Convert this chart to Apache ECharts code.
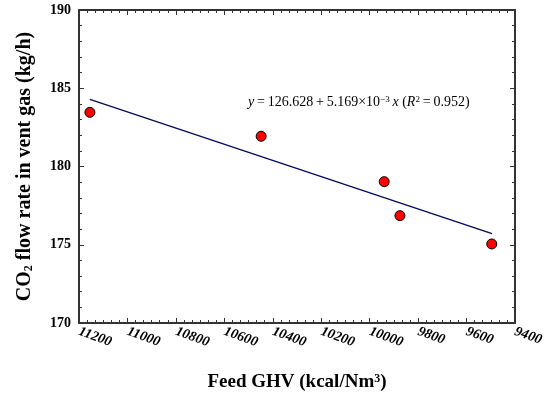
<!DOCTYPE html>
<html>
<head>
<meta charset="utf-8">
<script src="https://cdn.jsdelivr.net/npm/echarts@6/dist/echarts.min.js"></script>
<style>
  html, body { margin: 0; padding: 0; background: #fff; }
  #chart { width: 551px; height: 395px; }
</style>
</head>
<body>
<div id="chart"></div>
<script>
// measured points (feed GHV, CO2 flow)
const ghv = [11155, 10448, 9940, 9875, 9496]
const co2 = [183.46, 181.93, 179.03, 176.86, 175.05]
// ends of the fitted line
const fitGhv = [11155, 9495]
const fitCo2 = [184.29, 175.71]
const xTicks = [9400, 11200, 200]
const yTicks = [170, 190, 5]

const serif = '"Liberation Serif", "Times New Roman", serif'
const chart = echarts.init(document.getElementById('chart'))

const tickStyle = { color: '#333', width: 1 }
const baseX = {
  type: 'value',
  inverse: true,
  min: xTicks[0],
  max: xTicks[1],
  interval: xTicks[2],
  splitLine: { show: false },
  axisLine: { show: true, onZero: false, lineStyle: { color: '#333', width: 2 } },
  axisTick: { show: true, inside: true, length: 5, lineStyle: tickStyle },
  minorTick: { show: true, splitNumber: 6, length: 3, lineStyle: tickStyle }
}
const baseY = {
  type: 'value',
  min: yTicks[0],
  max: yTicks[1],
  interval: yTicks[2],
  splitLine: { show: false },
  axisLine: { show: true, onZero: false, lineStyle: { color: '#333', width: 2 } },
  axisTick: { show: true, inside: true, length: 5, lineStyle: tickStyle },
  minorTick: { show: true, splitNumber: 5, length: 3, lineStyle: tickStyle }
}

const option = {
  animation: false,
  grid: { left: 79, right: 36, top: 10, bottom: 72, containLabel: false, outerBoundsMode: 'none' },
  xAxis: [
    Object.assign({}, baseX, {
      position: 'bottom',
      name: 'Feed GHV (kcal/Nm{sup|3})',
      nameLocation: 'middle',
      nameGap: 50,
      nameTextStyle: {
        fontFamily: serif, fontWeight: 'bold', fontSize: 19, color: '#000',
        rich: { sup: { fontFamily: serif, fontWeight: 'bold', fontSize: 12, verticalAlign: 'top', color: '#000' } }
      },
      axisLabel: {
        rotate: -20, margin: 8,
        formatter: v => String(v),
        fontFamily: serif, fontWeight: 'bold', fontStyle: 'italic', fontSize: 14, color: '#000'
      }
    }),
    Object.assign({}, baseX, { position: 'top', axisLabel: { show: false } })
  ],
  yAxis: [
    Object.assign({}, baseY, {
      position: 'left',
      name: 'CO{sub|2} flow rate in vent gas (kg/h)',
      nameLocation: 'middle',
      nameGap: 44,
      nameTextStyle: {
        fontFamily: serif, fontWeight: 'bold', fontSize: 20, color: '#000',
        rich: { sub: { fontFamily: serif, fontWeight: 'bold', fontSize: 12, verticalAlign: 'bottom', color: '#000' } }
      },
      axisLabel: { margin: 8, fontFamily: serif, fontWeight: 'bold', fontSize: 14, color: '#000' }
    }),
    Object.assign({}, baseY, { position: 'right', axisLabel: { show: false } })
  ],
  series: [
    {
      type: 'line',
      data: fitGhv.map((v, i) => [v, fitCo2[i]]),
      symbol: 'none',
      lineStyle: { color: '#0a0a5a', width: 1.5 },
      z: 2
    },
    {
      type: 'scatter',
      data: ghv.map((v, i) => [v, co2[i]]),
      symbolSize: 10,
      itemStyle: { color: '#ff0000', borderColor: '#000', borderWidth: 1, opacity: 1 },
      z: 3
    }
  ],
  graphic: [{
    type: 'text',
    left: 248,
    top: 95,
    style: {
      text: '{i|y}\u2009=\u2009126.628\u2009+\u20095.169×10{sup|−3}\u2009{i|x} ({i|R}{sup|2}\u2009=\u20090.952)',
      fontFamily: serif, fontSize: 14, fill: '#000',
      rich: {
        i: { fontFamily: serif, fontStyle: 'italic', fontSize: 14 },
        sup: { fontFamily: serif, fontSize: 9, verticalAlign: 'top' }
      }
    }
  }]
}

chart.setOption(option)
window.addEventListener('resize', () => chart.resize())
</script>
</body>
</html>
